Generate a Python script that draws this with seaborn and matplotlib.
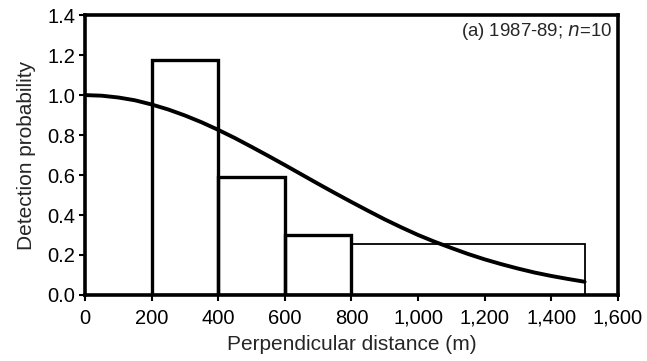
#!/usr/bin/env python3

import matplotlib
matplotlib.use("Agg")
import matplotlib.pyplot as plt
import matplotlib.ticker as mticker
import seaborn as sns

# histogram of scaled detections per distance class
bin_edges = [200, 400, 600, 800, 1500]
bar_heights = [1.175, 0.59, 0.30, 0.255]

# fitted detection function, every 50 m
curve_x = [0, 50, 100, 150, 200, 250, 300, 350, 400, 450, 500, 550, 600, 650, 700, 750,
           800, 850, 900, 950, 1000, 1050, 1100, 1150, 1200, 1250, 1300, 1350, 1400, 1450, 1500]
curve_y = [1.000, 0.997, 0.988, 0.974, 0.953, 0.928, 0.898, 0.864, 0.826, 0.785, 0.741, 0.696,
           0.650, 0.603, 0.556, 0.510, 0.465, 0.421, 0.378, 0.338, 0.300, 0.266, 0.235, 0.205,
           0.178, 0.154, 0.132, 0.112, 0.095, 0.080, 0.066]

x_ticks = [0, 200, 400, 600, 800, 1000, 1200, 1400, 1600]
y_ticks = [0.0, 0.2, 0.4, 0.6, 0.8, 1.0, 1.2, 1.4]


def make_plot(out):
    sns.set_style("white")
    plt.rcParams["font.family"] = ["Liberation Sans", "DejaVu Sans"]

    fig = plt.figure(figsize=(6.47, 3.61), dpi=100)
    ax = fig.add_axes([0.1314, 0.183, 0.8236, 0.775])

    mids = [(a + b) / 2 for a, b in zip(bin_edges[:-1], bin_edges[1:])]
    sns.histplot(x=mids, weights=bar_heights, bins=bin_edges, stat="count",
                 fill=False, element="bars", color="black", linewidth=2.4, ax=ax)
    # the widest class is drawn with a thin outline
    ax.patches[-1].set_linewidth(1.3)

    sns.lineplot(x=curve_x, y=curve_y, color="black", linewidth=2.8, ax=ax)

    ax.set_xlim(0, 1600)
    ax.set_ylim(0, 1.4)
    ax.set_xticks(x_ticks)
    ax.set_yticks(y_ticks)
    ax.xaxis.set_major_formatter(mticker.FuncFormatter(lambda v, p: f"{int(v):,}"))
    ax.yaxis.set_major_formatter(mticker.FormatStrFormatter("%.1f"))
    ax.tick_params(axis="both", direction="out", length=4, width=1.5,
                   labelsize=14.5, colors="black", bottom=True, left=True)
    ax.tick_params(axis="x", pad=6)
    ax.tick_params(axis="y", pad=3)

    for s in ax.spines.values():
        s.set_visible(True)
        s.set_color("black")
        s.set_linewidth(2.6)

    ax.set_xlabel("Perpendicular distance (m)", fontsize=15, labelpad=5)
    ax.set_ylabel("Detection probability", fontsize=15, labelpad=8)

    ax.text(0.99, 0.94, "(a) 1987-89; $n$=10", transform=ax.transAxes,
            ha="right", va="center", fontsize=13.4)

    fig.savefig(out, dpi=100)


if __name__ == '__main__':
    make_plot("out.png")
